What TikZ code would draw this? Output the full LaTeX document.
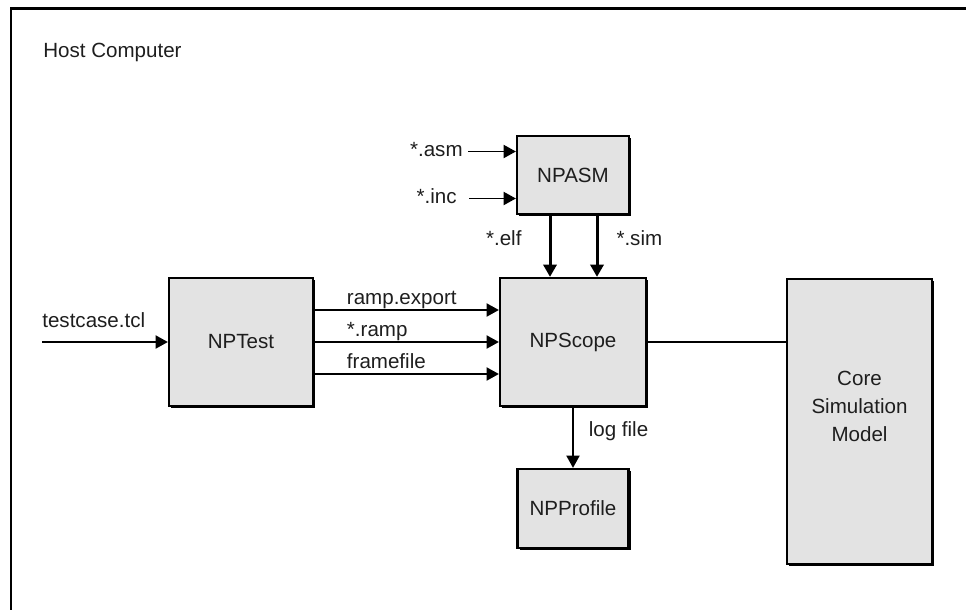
\documentclass[tikz,border=0pt]{standalone}
\usepackage{fontspec}
\setmainfont{Liberation Sans}
\usepackage{xcolor}
\usetikzlibrary{arrows.meta,positioning,shadows}
\definecolor{boxgrey}{RGB}{227,227,227}
\definecolor{inkgrey}{RGB}{30,30,30}

\begin{document}
\begin{tikzpicture}[
    font=\fontsize{11.7}{15.9}\selectfont,
    module/.style={rectangle, draw=black, line width=1.3pt, fill=boxgrey, text=inkgrey,
        drop shadow={shadow xshift=1.2pt, shadow yshift=-1.2pt, fill=black, opacity=1}},
    lbl/.style={inner sep=0pt, text=inkgrey},
    arr/.style={-{Triangle[length=7pt,width=7.5pt]}, line width=0.9pt},
    bigarr/.style={-{Triangle[length=7pt,width=7.5pt]}, line width=1.7pt}
]
    \useasboundingbox (0,0) rectangle (19.32,-12.18);
    \clip (0,0) rectangle (19.32,-12.18);
    % host frame, open to the right and bottom
    \draw[line width=1.7pt] (0.22,-13) -- (0.22,-0.17) -- (20,-0.17);
    \node[lbl, anchor=base west] (host) at (0.86,-1.14) {Host Computer};

    \node[module, minimum width=2.24cm, minimum height=1.56cm] (npasm) at (11.46,-3.50) {NPASM};
    \node[module, minimum width=2.88cm, minimum height=2.56cm] (nptest) at (4.82,-6.84) {NPTest};
    \node[module, minimum width=2.92cm, minimum height=2.56cm] (npscope) at (11.46,-6.84) {NPScope};
    \node[module, minimum width=2.22cm, minimum height=1.58cm] (npprofile) at (11.46,-10.17) {NPProfile};
    \node[module, minimum width=2.90cm, minimum height=5.70cm, align=center] (core) at (17.19,-8.43)
        {Core\\Simulation\\Model\rule[-0.6cm]{0pt}{0.6cm}};

    \coordinate (tcin) at (0.84,-6.84);
    \coordinate (asmin) at (9.36,-3.03);
    \coordinate (incin) at (9.38,-3.97);

    % inputs
    \draw[arr] (tcin) -- (nptest.west);
    \node[lbl, anchor=base west] (tclbl) at ([yshift=0.3cm]tcin) {testcase.tcl};
    \draw[arr] (asmin) -- (asmin -| npasm.west);
    \node[lbl, anchor=mid east] (asmlbl) at ([xshift=-0.1cm]asmin) {*.asm};
    \draw[arr] (incin) -- (incin -| npasm.west);
    \node[lbl, anchor=mid east] (inclbl) at ([xshift=-0.24cm]incin) {*.inc};

    % NPTest to NPScope
    \draw[arr] ([yshift=0.64cm]nptest.east) -- ([yshift=0.64cm]npscope.west)
        node[lbl, pos=0, anchor=base west, xshift=0.64cm, yshift=0.11cm] {ramp.export};
    \draw[arr] (nptest.east) -- (npscope.west)
        node[lbl, pos=0, anchor=base west, xshift=0.64cm, yshift=0.11cm] {*.ramp};
    \draw[arr] ([yshift=-0.64cm]nptest.east) -- ([yshift=-0.64cm]npscope.west)
        node[lbl, pos=0, anchor=base west, xshift=0.64cm, yshift=0.11cm] {framefile};

    % NPASM to NPScope
    \draw[bigarr] ([xshift=-0.46cm]npasm.south) -- ([xshift=-0.46cm]npscope.north)
        node[lbl, pos=0.42, anchor=mid east, xshift=-0.54cm] {*.elf};
    \draw[bigarr] ([xshift=0.48cm]npasm.south) -- ([xshift=0.48cm]npscope.north)
        node[lbl, pos=0.42, anchor=mid west, xshift=0.36cm] {*.sim};

    % outputs
    \draw[arr] (npscope.south) -- (npprofile.north)
        node[lbl, pos=0.41, anchor=mid west, xshift=0.30cm] {log file};
    \draw[line width=0.9pt] (npscope.east) -- (npscope.east -| core.west);
\end{tikzpicture}
\end{document}
